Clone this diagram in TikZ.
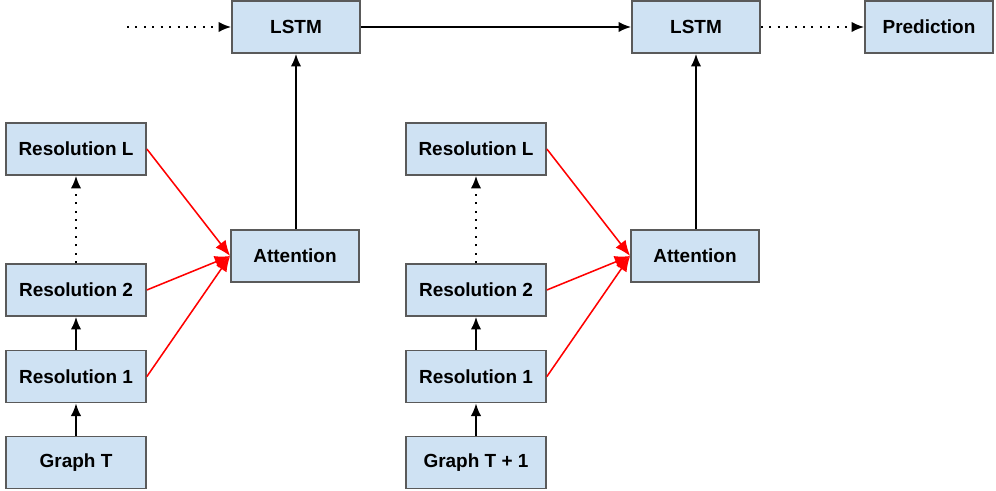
\documentclass[tikz,border=0pt]{standalone}
\usepackage{fontspec}
\setmainfont{Liberation Sans}
\usepackage{tikz}
\usetikzlibrary{arrows.meta}
\usetikzlibrary{positioning}
\tikzset{blk/.style = {draw = mgray, fill = mblue, line width = 1.2pt, inner sep = 0,
    minimum width = 3.2cm, minimum height = 1.3cm,
    font = \fontsize{13.5}{16}\selectfont\bfseries}}
\tikzset{resblk/.style = {blk, minimum width = 3.5cm}}
\tikzset{up/.style = {-{Latex[length=9pt, width=7.5pt]}, line width = 1.4pt}}
\tikzset{redarr/.style = {-{Latex[length=11pt, width=9pt]}, red, line width = 1.1pt}}
\tikzset{dots/.style = {-{Latex[length=9pt, width=7.5pt]}, line width = 1.4pt,
    dash pattern = on 1.4pt off 4.6pt}}
\definecolor{mblue}{RGB}{207, 226, 243}
\definecolor{mgray}{RGB}{90, 90, 90}

\begin{document}
\begin{tikzpicture}
    \useasboundingbox (0, 0) rectangle (24.9, 12.275);
    \foreach \s/\n/\g in {0/1/{Graph T}, 10/2/{Graph T + 1}} {
      \begin{scope}[shift={(\s, 0)}]
        \node [resblk] (graph\n) at (1.9, 0.71) {\g};
        \node [resblk] (resA\n) at (1.9, 2.86) {Resolution 1};
        \node [resblk] (resB\n) at (1.9, 5.025) {Resolution 2};
        \node [resblk] (resL\n) at (1.9, 8.55) {Resolution L};
        \node [blk] (att\n) at (7.375, 5.875) {Attention};
        \node [blk] (lstm\n) at (7.4, 11.6) {LSTM};

        \draw [up] (graph\n) -- (resA\n);
        \draw [up] (resA\n) -- (resB\n);
        \draw [dots] (resB\n) -- (resL\n);
        \foreach \r in {resA, resB, resL} {
          \draw [redarr] (\r\n.east) -- (att\n.west);
        }
        \draw [up] (att\n.north -| lstm\n.south) -- (lstm\n.south);
      \end{scope};
    }
    \node [blk] (pred) at (23.225, 11.6) {Prediction};
    \coordinate (start) at (3.175, 11.6);
    \draw [dots] (start) -- (lstm1);
    \draw [up] (lstm1) -- (lstm2);
    \draw [dots] (lstm2) -- (pred);
  \end{tikzpicture}
\end{document}
